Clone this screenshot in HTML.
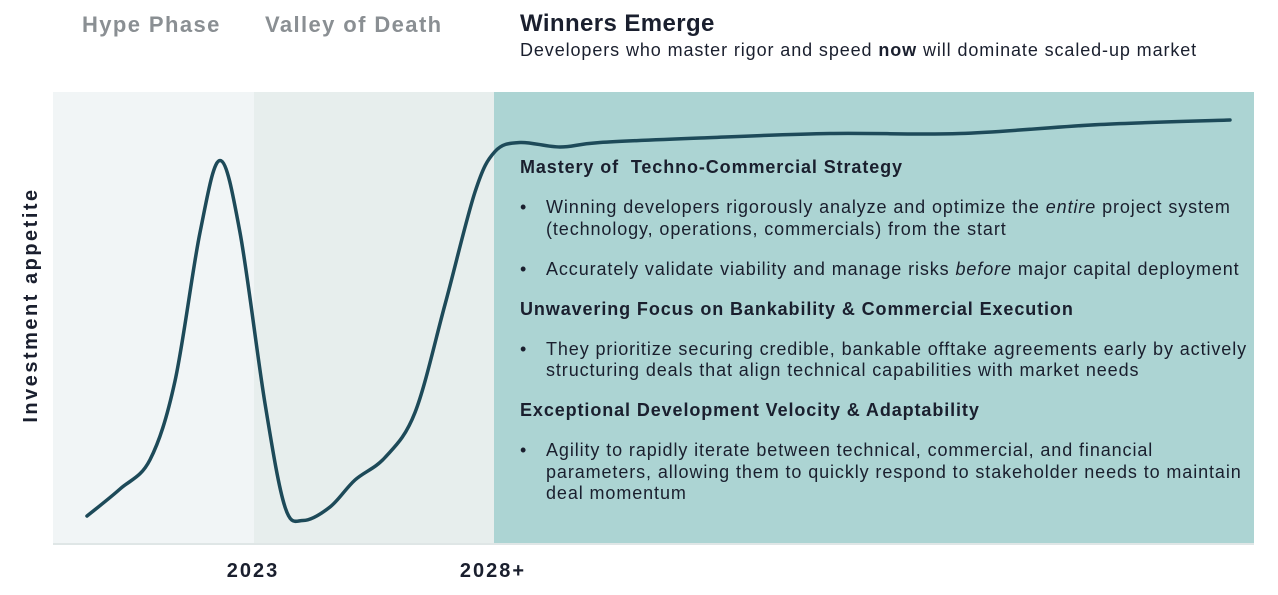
<!DOCTYPE html>
<html><head><meta charset="utf-8"><style>
body{margin:0;width:1278px;height:595px;background:#fff;font-family:"Liberation Sans",sans-serif;position:relative;overflow:hidden;color:#1a1f2e}
.abs{position:absolute}
.phase{font-weight:bold;font-size:22px;color:#8a8f93;top:12px;letter-spacing:1.4px}
.tb{font-size:18px;line-height:21.5px;letter-spacing:0.9px}
.h{font-weight:bold;color:#1a1f2e}
.bl{padding-left:26px;position:relative}
.bl:before{content:"•";position:absolute;left:0}
</style></head><body>
<div class="abs phase" style="left:82px">Hype Phase</div>
<div class="abs phase" style="left:265px">Valley of Death</div>
<div class="abs" style="left:520px;top:10px;font-weight:bold;font-size:24px;letter-spacing:0.4px">Winners Emerge</div>
<div class="abs" style="left:520px;top:40px;font-size:18px;letter-spacing:0.9px">Developers who master rigor and speed <b>now</b> will dominate scaled-up market</div>
<svg class="abs" style="left:0;top:0" width="1278" height="595">
<rect x="53" y="92" width="201" height="453" fill="#f1f5f6"/>
<rect x="254" y="92" width="240" height="453" fill="#e7eeed"/>
<rect x="494" y="92" width="760" height="453" fill="#acd4d3"/>
<line x1="53" y1="544" x2="1254" y2="544" stroke="#dfe6e6" stroke-width="2"/>
<path id="curve" fill="none" stroke="#1d4a59" stroke-width="3.5" stroke-linecap="round"/>
<text x="253" y="577" text-anchor="middle" font-weight="bold" font-size="20" letter-spacing="2" fill="#1a1f2e">2023</text>
<text x="493" y="577" text-anchor="middle" font-weight="bold" font-size="20" letter-spacing="2" fill="#1a1f2e">2028+</text>
<text transform="translate(37,305) rotate(-90)" text-anchor="middle" font-weight="bold" font-size="20" letter-spacing="2.5" fill="#1a1f2e">Investment appetite</text>
</svg>
<div class="abs tb" style="left:520px;top:157px;width:740px">
<div class="h" style="margin-bottom:18.5px">Mastery of&nbsp; Techno-Commercial Strategy</div>
<div class="bl" style="margin-bottom:18.5px">Winning developers rigorously analyze and optimize the <i>entire</i> project system (technology, operations, commercials) from the start</div>
<div class="bl" style="margin-bottom:18.5px">Accurately validate viability and manage risks <i>before</i> major capital deployment</div>
<div class="h" style="margin-bottom:18.5px">Unwavering Focus on Bankability &amp; Commercial Execution</div>
<div class="bl" style="margin-bottom:18.5px">They prioritize securing credible, bankable offtake agreements early by actively structuring deals that align technical capabilities with market needs</div>
<div class="h" style="margin-bottom:18.5px">Exceptional Development Velocity &amp; Adaptability</div>
<div class="bl">Agility to rapidly iterate between technical, commercial, and financial parameters, allowing them to quickly respond to stakeholder needs to maintain deal momentum</div>
</div>
<script>
const timeVals=[0,33,63,88,113,133,153,178,198,216,243,268,298,328,358,388,408,433,473,513,613,743,873,1013,1143];
const appetite=[6,12,18.5,36,69,85,69,31,8,5,8,14,19,29,53,78,87,89,88,89,90,91,91,93,94];
const X=t=>87+t, Y=v=>543-v*4.5;
const P=timeVals.map((t,i)=>[X(t),Y(appetite[i])]);
let d=`M${P[0][0]},${P[0][1]}`;
for(let i=0;i<P.length-1;i++){const p0=P[Math.max(0,i-1)],p1=P[i],p2=P[i+1],p3=P[Math.min(P.length-1,i+2)];
d+=` C${p1[0]+(p2[0]-p0[0])/6},${p1[1]+(p2[1]-p0[1])/6} ${p2[0]-(p3[0]-p1[0])/6},${p2[1]-(p3[1]-p1[1])/6} ${p2[0]},${p2[1]}`;}
document.getElementById('curve').setAttribute('d',d);
</script>
</body></html>
